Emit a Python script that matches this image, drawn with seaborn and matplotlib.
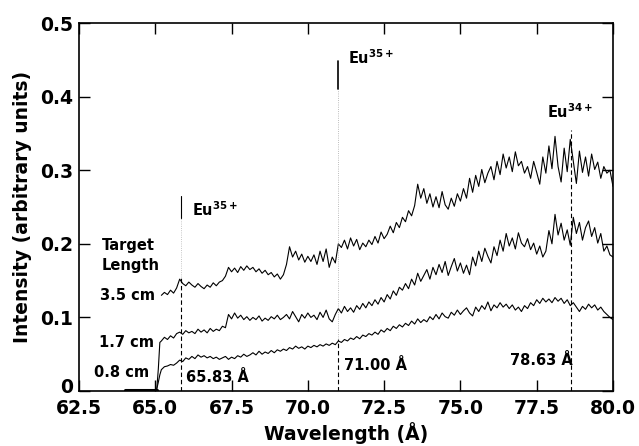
import numpy as np
import pandas as pd
import matplotlib
matplotlib.use("Agg")
import matplotlib.pyplot as plt
import matplotlib.transforms as mtransforms
import seaborn as sns

# ---------------- data ----------------
wl_grid = np.round(np.linspace(65.2, 80.0, 149), 2)

baseline_wl = [64.0, 65.05]
baseline_int = [0.002, 0.002]

bottom_prefix_wl = [65.05, 65.1, 65.15]
bottom_prefix = [0.003, 0.012, 0.022]
bottom_08cm = [
    0.029, 0.033, 0.034, 0.036, 0.035, 0.038, 0.042, 0.040, 0.045, 0.043,
    0.047, 0.044, 0.049, 0.046, 0.048, 0.045, 0.047, 0.044, 0.046, 0.043,
    0.045, 0.047, 0.043, 0.046, 0.044, 0.048, 0.046, 0.050, 0.047, 0.049,
    0.052, 0.049, 0.054, 0.050, 0.053, 0.051, 0.055, 0.052, 0.056, 0.054,
    0.057, 0.055, 0.059, 0.057, 0.061, 0.058, 0.060, 0.057, 0.061, 0.059,
    0.062, 0.060, 0.063, 0.061, 0.064, 0.062, 0.065, 0.063, 0.068, 0.066,
    0.070, 0.068, 0.072, 0.070, 0.074, 0.071, 0.076, 0.074, 0.078, 0.076,
    0.080, 0.077, 0.083, 0.080, 0.085, 0.082, 0.088, 0.085, 0.090, 0.087,
    0.092, 0.089, 0.095, 0.091, 0.098, 0.093, 0.097, 0.094, 0.101, 0.097,
    0.104, 0.098, 0.106, 0.101, 0.099, 0.107, 0.103, 0.110, 0.104, 0.109,
    0.113, 0.106, 0.102, 0.114, 0.108, 0.116, 0.111, 0.121, 0.109, 0.117,
    0.113, 0.120, 0.114, 0.118, 0.112, 0.117, 0.110, 0.114, 0.108, 0.116,
    0.112, 0.120, 0.116, 0.124, 0.119, 0.126, 0.121, 0.125, 0.120, 0.127,
    0.122, 0.126, 0.119, 0.124, 0.116, 0.120, 0.114, 0.108, 0.115, 0.111,
    0.118, 0.113, 0.117, 0.110, 0.114, 0.108, 0.104, 0.100, 0.097,
]

middle_prefix_wl = [65.05, 65.1, 65.15]
middle_prefix = [0.003, 0.030, 0.066]
middle_17cm = [
    0.068, 0.073, 0.070, 0.075, 0.072, 0.078, 0.080, 0.077, 0.082, 0.079,
    0.081, 0.078, 0.084, 0.080, 0.083, 0.079, 0.085, 0.081, 0.084, 0.082,
    0.088, 0.086, 0.104, 0.098, 0.106, 0.099, 0.103, 0.097, 0.101, 0.096,
    0.100, 0.097, 0.102, 0.095, 0.099, 0.096, 0.101, 0.098, 0.103, 0.097,
    0.100, 0.104, 0.098, 0.108, 0.101, 0.094, 0.104, 0.099, 0.106, 0.100,
    0.103, 0.097, 0.107, 0.100, 0.110, 0.098, 0.094, 0.104, 0.112, 0.106,
    0.115, 0.108, 0.113, 0.107, 0.116, 0.111, 0.119, 0.113, 0.121, 0.116,
    0.124, 0.118, 0.127, 0.121, 0.131, 0.125, 0.136, 0.130, 0.141, 0.137,
    0.146, 0.139, 0.152, 0.144, 0.160, 0.149, 0.157, 0.165, 0.152, 0.168,
    0.158, 0.172, 0.161, 0.176, 0.157, 0.169, 0.180, 0.163, 0.174, 0.160,
    0.171, 0.158, 0.182, 0.170, 0.190, 0.176, 0.194, 0.183, 0.174, 0.196,
    0.184, 0.205, 0.190, 0.214, 0.197, 0.208, 0.193, 0.215, 0.201, 0.196,
    0.207, 0.192, 0.201, 0.186, 0.197, 0.182, 0.190, 0.218, 0.200, 0.240,
    0.212, 0.228, 0.205, 0.219, 0.198, 0.236, 0.214, 0.229, 0.205, 0.222,
    0.231, 0.210, 0.222, 0.201, 0.214, 0.190, 0.197, 0.185, 0.182,
]

top_35cm = [
    0.130, 0.134, 0.131, 0.137, 0.133, 0.140, 0.152, 0.146, 0.143, 0.148,
    0.144, 0.141, 0.146, 0.142, 0.139, 0.144, 0.141, 0.147, 0.143, 0.148,
    0.150, 0.156, 0.168, 0.162, 0.167, 0.161, 0.169, 0.164, 0.170, 0.165,
    0.168, 0.162, 0.166, 0.160, 0.164, 0.158, 0.161, 0.155, 0.159, 0.152,
    0.158, 0.172, 0.196, 0.182, 0.190, 0.178, 0.186, 0.175, 0.183, 0.176,
    0.185, 0.172, 0.190, 0.176, 0.193, 0.168, 0.182, 0.174, 0.200, 0.195,
    0.205, 0.193, 0.208, 0.197, 0.206, 0.192, 0.201, 0.196, 0.205, 0.199,
    0.210, 0.201, 0.216, 0.207, 0.213, 0.224, 0.215, 0.229, 0.222, 0.236,
    0.230, 0.245, 0.238, 0.252, 0.281, 0.262, 0.275, 0.255, 0.268, 0.250,
    0.264, 0.249, 0.271, 0.253, 0.247, 0.262, 0.251, 0.268, 0.258, 0.275,
    0.262, 0.289, 0.270, 0.293, 0.278, 0.301, 0.283, 0.296, 0.305, 0.287,
    0.312, 0.294, 0.322, 0.303, 0.318, 0.298, 0.325, 0.306, 0.312, 0.296,
    0.305, 0.289, 0.312, 0.297, 0.281, 0.318, 0.296, 0.333, 0.302, 0.346,
    0.305, 0.284, 0.330, 0.298, 0.342, 0.312, 0.282, 0.326, 0.297, 0.318,
    0.292, 0.322, 0.301, 0.311, 0.289, 0.305, 0.296, 0.300, 0.278,
]

line_wl = [65.83, 71.00, 78.63]
line_labels = ["65.83 Å", "71.00 Å", "78.63 Å"]
ion_labels = ["35+", "35+", "34+"]
target_lengths = ["3.5 cm", "1.7 cm", "0.8 cm"]

x_ticks = [62.5, 65.0, 67.5, 70.0, 72.5, 75.0, 77.5, 80.0]
y_ticks = [0, 0.1, 0.2, 0.3, 0.4, 0.5]
y_ticklabels = ["0", "0.1", "0.2", "0.3", "0.4", "0.5"]

# ---------------- plot ----------------
sns.set_theme(style="ticks")
plt.rcParams["font.family"] = ["DejaVu Sans"]
plt.rcParams["font.weight"] = "bold"
plt.rcParams["mathtext.fontset"] = "dejavusans"
plt.rcParams["mathtext.default"] = "bf"
plt.rcParams["text.color"] = "black"
plt.rcParams["axes.labelcolor"] = "black"
plt.rcParams["xtick.color"] = "black"
plt.rcParams["ytick.color"] = "black"

fig = plt.figure(figsize=(6.39, 4.46), dpi=100)
ax = fig.add_axes([0.1236, 0.1233, 0.8357, 0.8251])

lw = 0.8
def draw(x, y, w=lw):
    df = pd.DataFrame({"wl": x, "I": y})
    sns.lineplot(data=df, x="wl", y="I", ax=ax, color="black",
                 linewidth=w, estimator=None, sort=False)

draw(baseline_wl, baseline_int, w=2.2)
draw(bottom_prefix_wl + list(wl_grid), bottom_prefix + bottom_08cm)
draw(middle_prefix_wl + list(wl_grid), middle_prefix + middle_17cm)
draw(list(wl_grid), top_35cm)

# spectral line markers
dash = (0, (4, 2.5))
ax.plot([line_wl[0]] * 2, [0, 0.155], color="black", lw=0.8, ls=dash)
ax.plot([line_wl[0]] * 2, [0.155, 0.235], color="0.7", lw=0.6, ls=":")
ax.plot([line_wl[0]] * 2, [0.235, 0.265], color="black", lw=0.8)

ax.plot([line_wl[1]] * 2, [0, 0.07], color="black", lw=0.8, ls=dash)
ax.plot([line_wl[1]] * 2, [0.07, 0.41], color="0.65", lw=0.6, ls=":")
ax.plot([line_wl[1]] * 2, [0.41, 0.448], color="black", lw=1.2)

ax.plot([line_wl[2]] * 2, [0, 0.355], color="black", lw=0.8, ls=dash)

# text labels
fs = 10.5
tc = "black"
ax.text(66.2, 0.238, "Eu$^{" + ion_labels[0] + "}$", fontsize=fs, fontweight="bold", color=tc)
ax.text(71.3, 0.444, "Eu$^{" + ion_labels[1] + "}$", fontsize=fs, fontweight="bold", color=tc)
ax.text(77.85, 0.371, "Eu$^{" + ion_labels[2] + "}$", fontsize=fs, fontweight="bold", color=tc)

ax.text(66.0, 0.012, line_labels[0], fontsize=fs, fontweight="bold", color=tc)
ax.text(71.2, 0.028, line_labels[1], fontsize=fs, fontweight="bold", color=tc)
ax.text(76.63, 0.035, line_labels[2], fontsize=fs, fontweight="bold", color=tc)

ax.text(63.25, 0.191, "Target", fontsize=fs, fontweight="bold", color=tc)
ax.text(63.25, 0.164, "Length", fontsize=fs, fontweight="bold", color=tc)
ax.text(63.19, 0.123, target_lengths[0], fontsize=fs, fontweight="bold", color=tc)
ax.text(63.16, 0.060, target_lengths[1], fontsize=fs, fontweight="bold", color=tc)
ax.text(63.0, 0.019, target_lengths[2], fontsize=fs, fontweight="bold", color=tc)

ax.set_xlim(62.5, 80.0)
ax.set_ylim(0, 0.5)
ax.set_xticks(x_ticks)
ax.set_xticklabels([f"{t:.1f}" for t in x_ticks])
ax.set_yticks(y_ticks)
ax.set_yticklabels(y_ticklabels)
ax.tick_params(axis="both", direction="in", length=8, width=1.0,
               top=True, right=True, labelsize=13.5, colors="black")
ax.tick_params(axis="x", pad=6)
ax.tick_params(axis="y", pad=4)
for lab in ax.get_xticklabels() + ax.get_yticklabels():
    lab.set_fontweight("bold")
# lift the "0" y label slightly, as in the reference
zero_lab = ax.get_yticklabels()[0]
zero_lab.set_transform(zero_lab.get_transform() +
                       mtransforms.ScaledTranslation(0, 4 / 72, fig.dpi_scale_trans))
for s in ax.spines.values():
    s.set_linewidth(1.2)
    s.set_color("black")

ax.set_xlabel("Wavelength (Å)", fontsize=13.5, fontweight="bold", labelpad=3, color="black")
ax.set_ylabel("Intensity (arbitrary units)", fontsize=13.5, fontweight="bold", labelpad=6, color="black")

fig.savefig("out.png", dpi=100)
